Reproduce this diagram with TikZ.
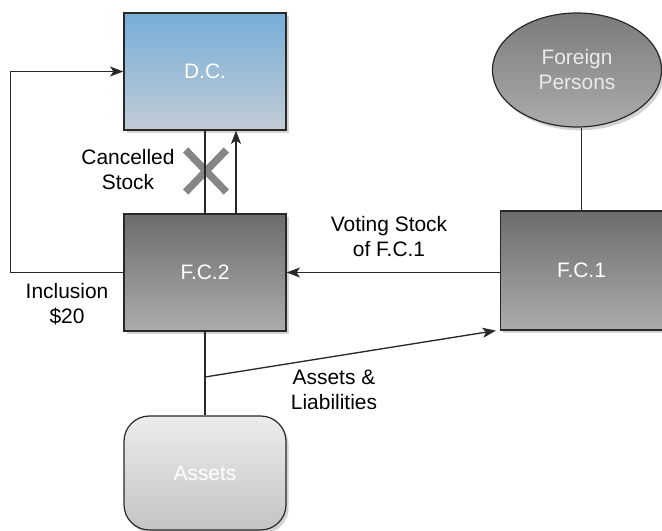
\documentclass[tikz,border=0pt]{standalone}
\usepackage{fontspec}
\setmainfont{Liberation Sans}
\usepackage{tikz}
\usetikzlibrary{arrows.meta,shadows,shapes.geometric,shapes.misc}
\definecolor{dctop}{RGB}{118,174,216}
\definecolor{dcbot}{RGB}{194,203,214}
\definecolor{fctop}{RGB}{108,108,108}
\definecolor{fcbot}{RGB}{172,172,172}
\definecolor{astop}{RGB}{236,236,236}
\definecolor{asbot}{RGB}{196,196,196}
\definecolor{edgeclr}{RGB}{40,40,40}
\tikzset{
  box/.style={draw=edgeclr, line width=0.9pt, minimum width=121.5pt, minimum height=87.75pt,
    inner sep=0pt, shading=axis, shading angle=0, text=white,
    drop shadow={shadow xshift=2pt, shadow yshift=-2.5pt, opacity=0.35}},
  lbl/.style={align=center, text=black},
  arr/.style={-{Stealth[length=10pt,width=7.5pt,inset=2.5pt]}},
}

\begin{document}
\begin{tikzpicture}[x=0.75pt, y=-0.75pt, font=\fontsize{15.7}{18.75}\selectfont, line width=1pt, draw=edgeclr]
  \useasboundingbox (0,0) rectangle (662,531);
  % boxes
  \node (dc) [box, top color=dctop, bottom color=dcbot] at (205,71.5) {D.C.};
  \node (fc2) [box, top color=fctop, bottom color=fcbot] at (205,272.5) {F.C.2};
  \node (fc1) [box, top color=fctop, bottom color=fcbot, minimum height=89.25pt] at (581.5,270.5) {F.C.1};
  \node (fp) [box, ellipse, top color=fctop!90, bottom color=fcbot, minimum width=126.75pt,
    minimum height=85.5pt, align=center, text=white!92!black] at (577,70) {Foreign\\Persons};
  \node (assets) [box, rounded corners=19pt, top color=astop, bottom color=asbot,
    minimum height=85.5pt] at (205,473) {Assets};
  \node (x) [cross out, draw=gray!95, line width=5.5pt, minimum width=25pt, minimum height=26pt,
    inner sep=0pt, drop shadow={opacity=0}] at (206,171) {};
  % labels
  \node (cs) [lbl] at (128,170) {Cancelled\\Stock};
  \node (inc) [lbl] at (67,304) {Inclusion\\\$20};
  \node (vs) [lbl] at (389,237) {Voting Stock\\of F.C.1};
  \node (al) [lbl] at (334,390) {Assets \&\\Liabilities};
  \coordinate (split) at (205,377);
  % connectors
  \draw (dc.south) -- (fc2.north);
  \draw[arr] ([xshift=23.25pt]fc2.north) -- ([xshift=23.25pt]dc.south);
  \draw[arr] (fc2.west) -- ++(-113,0) |- (dc.west);
  \draw[arr] (fc1.west |- fc2.east) -- (fc2.east);
  \draw (fc1.north) -- (fc1.north |- fp.south);
  \draw (fc2.south) -- (assets.north);
  \draw[arr] (split) -- ([xshift=-3pt]fc1.south west);
\end{tikzpicture}
\end{document}
